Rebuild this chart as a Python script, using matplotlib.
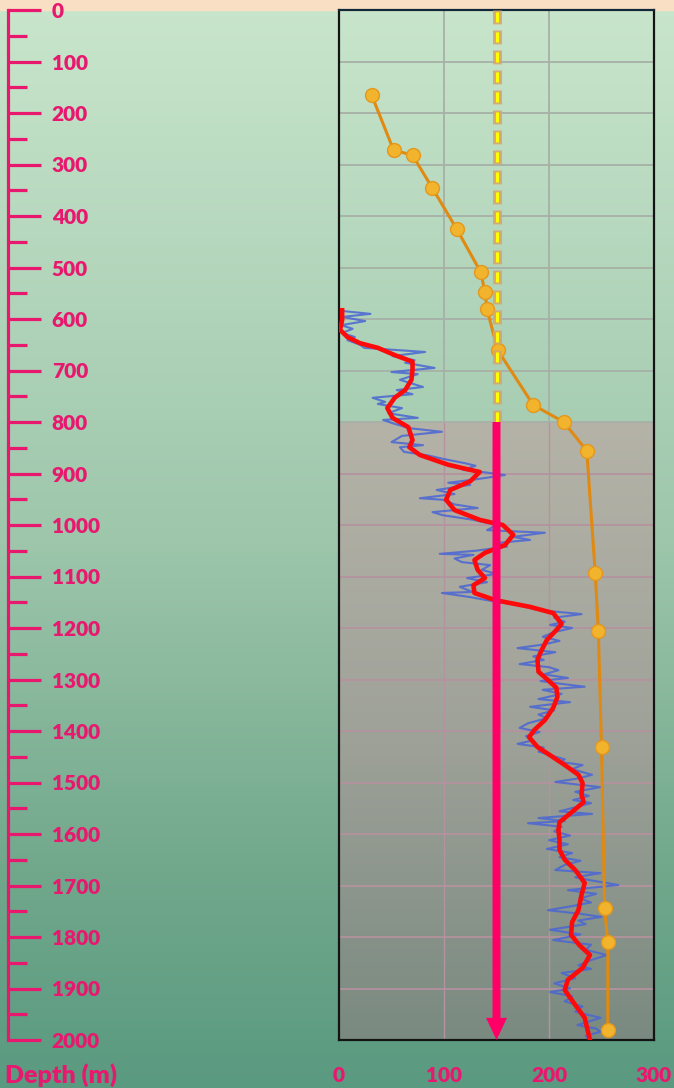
import numpy as np
import matplotlib
matplotlib.use("Agg")
import matplotlib.pyplot as plt
from matplotlib.colors import LinearSegmentedColormap
from matplotlib.ticker import MultipleLocator

plt.rcParams["font.family"] = ["Lato", "DejaVu Sans"]
plt.rcParams["font.weight"] = "heavy"
plt.rcParams["lines.scale_dashes"] = False

PINK = "#e8186f"

# orange profile (value, depth)
orange_x = [31, 52, 70, 89, 112, 135, 139, 141, 151, 185, 214, 236, 244, 247, 250, 253, 256, 256]
orange_d = [165, 272, 282, 346, 425, 509, 548, 581, 660, 767, 800, 856, 1093, 1206, 1431, 1744, 1810, 1981]

# smoothed log (red)
red_d = [583, 602, 621, 635, 647, 656, 670, 683, 699, 718, 738, 753, 773, 792, 810, 835, 849,
         864, 883, 893, 897, 915, 932, 951, 971, 990, 1000, 1019, 1039, 1054, 1068, 1087, 1103,
         1117, 1132, 1146, 1159, 1171, 1192, 1204, 1223, 1247, 1262, 1285, 1301, 1316, 1334,
         1355, 1379, 1398, 1412, 1431, 1447, 1466, 1485, 1501, 1524, 1538, 1557, 1577, 1592,
         1612, 1631, 1650, 1670, 1695, 1718, 1748, 1771, 1796, 1816, 1835, 1860, 1883, 1903,
         1932, 1957, 2000]
red_x = [3, 3, 1, 8, 20, 37, 53, 70, 70, 69, 63, 53, 46, 51, 66, 70, 67,
         77, 104, 125, 134, 125, 106, 102, 110, 134, 156, 166, 158, 139, 129, 132, 139,
         128, 129, 149, 182, 204, 212, 207, 198, 192, 189, 190, 199, 207, 208,
         204, 196, 186, 181, 189, 201, 215, 228, 232, 231, 233, 222, 210, 209,
         210, 210, 215, 225, 234, 231, 228, 222, 221, 229, 239, 232, 218, 215,
         225, 234, 239]

# raw log (blue)
blue_d = [584, 590, 596, 604, 612, 619, 627, 635, 641, 650, 656, 664, 672, 680, 685, 695, 703,
          707, 718, 732, 738, 746, 753, 761, 765, 773, 783, 792, 796, 803, 812, 819, 827, 839,
          845, 849, 858, 865, 872, 880, 885, 893, 898, 903, 912, 918, 922, 932, 940, 948, 951,
          960, 967, 975, 981, 990, 1000, 1010, 1015, 1023, 1029, 1035, 1042, 1050, 1056, 1058,
          1065, 1072, 1078, 1087, 1095, 1103, 1111, 1120, 1130, 1132, 1140, 1146, 1155, 1165,
          1173, 1180, 1188, 1194, 1200, 1208, 1217, 1225, 1232, 1239, 1247, 1255, 1262, 1270,
          1276, 1282, 1290, 1297, 1303, 1308, 1314, 1320, 1328, 1338, 1344, 1353, 1360, 1368,
          1375, 1385, 1394, 1402, 1410, 1418, 1425, 1432, 1440, 1447, 1455, 1460, 1466, 1474,
          1485, 1492, 1499, 1509, 1518, 1526, 1534, 1540, 1548, 1556, 1561, 1569, 1575, 1579,
          1586, 1595, 1603, 1612, 1620, 1629, 1637, 1645, 1652, 1660, 1670, 1676, 1684, 1690,
          1699, 1709, 1716, 1725, 1733, 1740, 1748, 1755, 1761, 1768, 1775, 1786, 1795, 1806,
          1815, 1825, 1835, 1845, 1855, 1862, 1870, 1880, 1890, 1900, 1907, 1915, 1925, 1935,
          1945, 1957, 1964, 1971, 1978, 1984, 1992, 2000]
blue_x = [1, 30, 3, 25, 2, 13, 3, 15, 8, 20, 24, 82, 51, 72, 63, 91, 50,
          75, 58, 80, 55, 70, 32, 44, 37, 60, 47, 75, 42, 52, 67, 98, 60, 50,
          80, 58, 62, 85, 100, 120, 130, 118, 140, 158, 128, 104, 125, 93, 110, 77, 99,
          110, 132, 89, 99, 128, 150, 141, 196, 166, 182, 150, 160, 130, 96, 128,
          110, 117, 144, 136, 150, 122, 141, 115, 127, 98, 125, 141, 170, 189,
          231, 205, 215, 201, 222, 205, 194, 210, 195, 170, 206, 185, 195, 172,
          200, 209, 195, 218, 192, 210, 234, 194, 212, 190, 220, 182, 205, 190,
          198, 180, 172, 191, 178, 185, 170, 195, 190, 201, 215, 210, 232, 222,
          241, 228, 206, 249, 225, 238, 223, 240, 225, 210, 241, 190, 215, 180,
          212, 205, 220, 200, 218, 198, 222, 210, 230, 215, 206, 249, 225, 240,
          266, 218, 245, 230, 240, 222, 199, 230, 250, 228, 235, 201, 230, 204,
          240, 235, 255, 240, 228, 240, 212, 225, 205, 220, 201, 222, 215, 232,
          225, 249, 238, 227, 245, 249, 235, 239]

marker_depth = 150
zone_top = 800
depth_ticks = list(range(0, 2001, 100))
value_ticks = [0, 100, 200, 300]

W, H = 674, 1088
fig = plt.figure(figsize=(W / 100, H / 100), dpi=100)

# background
bg = fig.add_axes([0, 0, 1, 1])
bg_cmap = LinearSegmentedColormap.from_list(
    "bg", [(0, "#c9e6cc"), (0.5, "#9dc6ab"), (0.8, "#71a88c"), (1, "#5a9a80")])
bg.imshow(np.linspace(0, 1, 256).reshape(-1, 1), cmap=bg_cmap, aspect="auto",
          extent=[0, 1, 0, 1])
bg.axhspan(1 - 10 / H, 1, color="#f9e0c4")
bg.set_xlim(0, 1)
bg.set_ylim(0, 1)
bg.axis("off")

# main track
ax = fig.add_axes([339 / W, 1 - 1040 / H, 315 / W, 1030 / H])
ax.patch.set_alpha(0)
gray_cmap = LinearSegmentedColormap.from_list("zone", ["#b5b3a8", "#9fa299", "#7a8a80"])
ax.imshow(np.linspace(0, 1, 256).reshape(-1, 1), cmap=gray_cmap, aspect="auto",
          extent=[0, 300, 2000, zone_top], zorder=0.2)
ax.set_xlim(0, 300)
ax.set_ylim(2000, 0)
ax.set_xticks(value_ticks)
ax.set_yticks(depth_ticks)

for y in ax.get_yticks()[1:-1]:
    ax.hlines(y, 0, 300, color="#a7b0a7" if y <= zone_top else "#b4929f", lw=1.3, zorder=0.3)
for x in ax.get_xticks()[1:-1]:
    ax.vlines(x, 0, zone_top, color="#a7b0a7", lw=1.3, zorder=0.3)
    ax.vlines(x, zone_top, 2000, color="#b4929f", lw=1.0, zorder=0.3)

ax.plot(blue_x, blue_d, color="#4a66d4", lw=1.5, alpha=0.85, zorder=2)
ax.plot(red_x, red_d, color="#ff0a0a", lw=3.3, zorder=3)
ax.plot(orange_x, orange_d, color="#e08a12", lw=2.2, marker="o", ms=10,
        mfc="#f2b42c", mec="#e3981e", mew=1, zorder=4)

# target marker: dashed above the zone, arrow through it
ax.plot([marker_depth, marker_depth], [0, zone_top], color="#d6a66c", lw=6.5, alpha=0.9,
        linestyle=(0, (10, 4.4)), dash_capstyle="butt", zorder=5)
ax.plot([marker_depth, marker_depth], [0, zone_top], color="#ffff00", lw=2.2,
        linestyle=(13, (7.2, 7.2)), dash_capstyle="butt", zorder=6)
ax.arrow(marker_depth, zone_top, 0, 2000 - zone_top, width=7.6, head_width=20,
         head_length=43, length_includes_head=True, color="#ff0066", lw=0, zorder=7)

for s in ax.spines.values():
    s.set_color("#141414")
    s.set_linewidth(1.6)
ax.spines["top"].set_color("#10283a")
ax.tick_params(axis="y", length=0, labelleft=False)
ax.tick_params(axis="x", length=0, pad=19, labelsize=15, labelcolor=PINK)

# depth scale
sc = fig.add_axes([0, 1 - 1040 / H, 8 / W, 1030 / H])
sc.patch.set_alpha(0)
sc.set_ylim(2000, 0)
sc.set_xticks([])
sc.yaxis.tick_right()
sc.yaxis.set_major_locator(MultipleLocator(100))
sc.yaxis.set_minor_locator(MultipleLocator(50))
for k in ["left", "top", "bottom"]:
    sc.spines[k].set_visible(False)
sc.spines["right"].set_color(PINK)
sc.spines["right"].set_linewidth(2.3)
sc.tick_params(axis="y", which="major", direction="out", length=24, width=2.3,
               color=PINK, labelcolor=PINK, labelsize=15, pad=7.5)
sc.tick_params(axis="y", which="minor", direction="out", length=14, width=2.3, color=PINK)

fig.text(5 / W, 1 - 1075 / H, "Depth (m)", color=PINK, fontsize=18, va="center", ha="left")

fig.savefig("out.png", dpi=100)
